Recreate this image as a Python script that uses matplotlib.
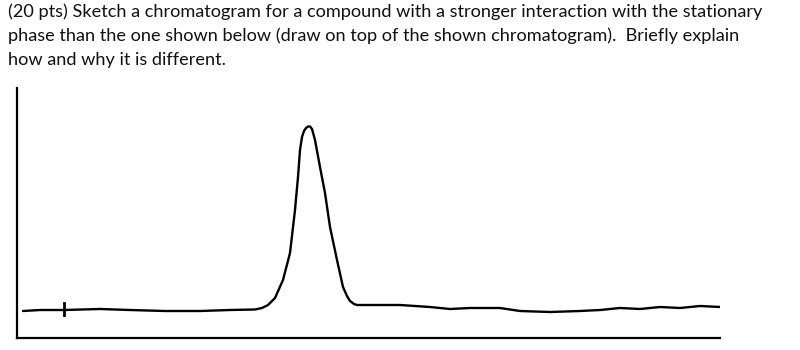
import matplotlib
matplotlib.use("Agg")
import matplotlib.pyplot as plt

# Chromatogram trace (retention time axis, detector signal)
time = [23, 40, 64, 100, 130, 165, 200, 230, 255, 262, 268, 275, 283, 290, 295, 298, 300,
        302, 304, 306, 308, 310, 312, 315, 320, 325, 330, 337, 343, 347, 350, 354, 357, 360,
        380, 400, 430, 450, 470, 500, 520, 550, 580, 600, 620, 640, 660, 680, 700, 720]
signal_px = [311, 310, 310, 309, 310, 311, 311, 310, 309.5, 308, 305, 298, 280, 253, 210, 177, 150,
             137, 131, 128, 126.5, 126.5, 129, 140, 167, 193, 227, 260, 287, 296, 301, 304, 305, 305,
             305, 305, 307, 309, 308, 308, 311, 312, 311, 310, 308, 309, 307, 308, 306, 307]
signal = [338 - v for v in signal_px]

injection_time = 64
injection_mark = [338 - 315, 338 - 303]

question = ("(20 pts) Sketch a chromatogram for a compound with a stronger interaction with the stationary\n"
            "phase than the one shown below (draw on top of the shown chromatogram).  Briefly explain\n"
            "how and why it is different.")

fig = plt.figure(figsize=(8, 3.5), dpi=100)
ax = fig.add_axes([17 / 800, 12 / 350, (720 - 17) / 800, (338 - 88) / 350])
ax.plot(time, signal, color="black", lw=1.7, solid_joinstyle="round", solid_capstyle="round")
ax.plot([injection_time, injection_time], injection_mark, color="black", lw=2)
ax.set_xlim(17, 720)
ax.set_ylim(0, 250)
for s in ["top", "right"]:
    ax.spines[s].set_visible(False)
for s in ["left", "bottom"]:
    ax.spines[s].set_linewidth(1.6)
ax.set_xticks([])
ax.set_yticks([])

fig.text(8 / 800, 1 - 3 / 350, question, ha="left", va="top", fontsize=13.05,
         family="Lato", linespacing=1.6, color="#111111")

fig.savefig("out.png", dpi=100)
